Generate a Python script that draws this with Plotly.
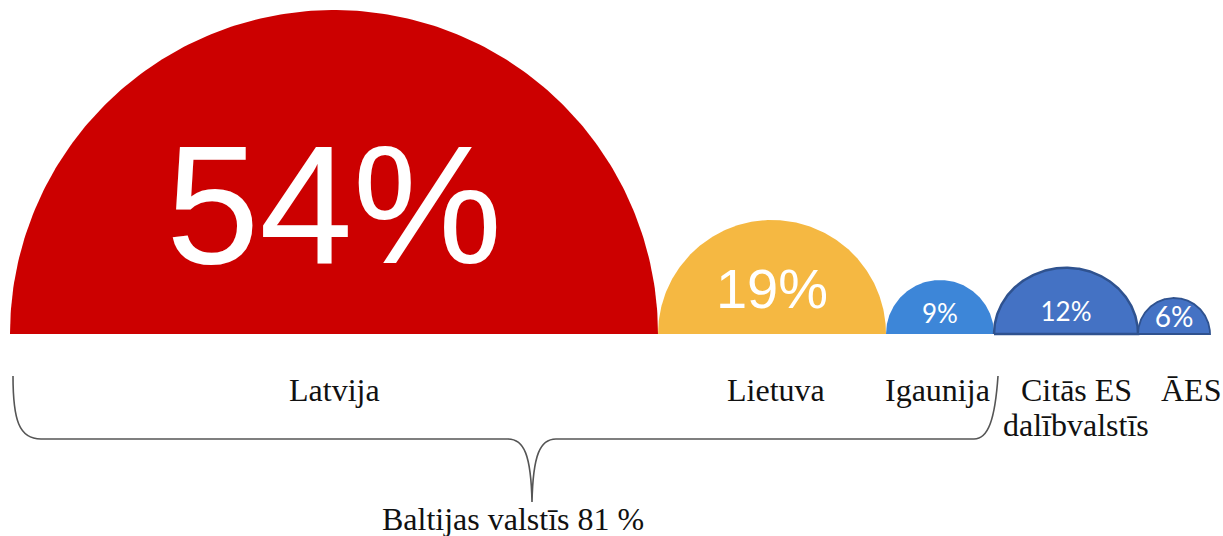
import numpy as np
import plotly.graph_objects as go

# ---------------- data ----------------
categories = ["Latvija", "Lietuva", "Igaunija", "Citās ES<br>dalībvalstīs", "ĀES"]
shares = [54, 19, 9, 12, 6]              # percent
value_labels = ["54%", "19%", "9%", "12%", "6%"]
group_label = "Baltijas valstīs 81 %"
group_members = 3                         # first three categories are Baltic

# ---------------- style ----------------
OFF = 0            # page body margin is removed by post_script
W, H = 1223 - OFF, 536 - OFF
PX = 12.0          # pixels per percent unit
X0_PX = 10         # screen pixel position of x=0
BASE_PX = 334      # screen pixel position of y=0 (baseline)
fills = ["#CC0000", "#F5B842", "#3D86D8", "#4472C4", "#4472C4"]
outlines = [None, None, None, "#2F528F", "#2F528F"]
outline_w = [0, 0, 0, 2.5, 1.8]
height_ratio = [1, 1, 1, 0.92, 1]
val_font = ["Liberation Sans", "Liberation Sans", "Lato", "Lato", "Lato"]
val_size = [168, 56, 26, 26, 28]
val_y_frac = [0.35, 0.35, 0.33, 0.30, 0.39]
label_xshift = [0, 4, -3, 10, 17]
label_font = dict(family="Liberation Serif, Times New Roman, serif", size=32, color="#111111")


def px_x(p):
    return (p - X0_PX) / PX


def px_y(p):
    return (BASE_PX - p) / PX


fig = go.Figure()

starts = np.concatenate([[0], np.cumsum(shares)[:-1]])
t = np.linspace(0, np.pi, 200)
for i, (s, v) in enumerate(zip(starts, shares)):
    r = v / 2
    cx = s + r
    h = r * height_ratio[i]
    xs = cx - r * np.cos(t)
    ys = h * np.sin(t)
    xs = np.concatenate([xs, [cx - r]])
    ys = np.concatenate([ys, [0]])
    line = dict(width=0, color=fills[i]) if outlines[i] is None else dict(width=outline_w[i], color=outlines[i])
    fig.add_trace(go.Scatter(x=xs, y=ys, mode="lines", fill="toself", fillcolor=fills[i],
                             line=line, hoverinfo="skip", showlegend=False))
    fig.add_trace(go.Scatter(x=[cx], y=[h * val_y_frac[i]], mode="text", text=[value_labels[i]],
                             textposition="middle center",
                             textfont=dict(family=val_font[i], size=val_size[i], color="white"),
                             hoverinfo="skip", showlegend=False))
    # category labels (line by line, tighter spacing)
    for j, line_txt in enumerate(categories[i].split("<br>")):
        fig.add_annotation(x=cx, y=px_y(390 + 35 * j), text=line_txt, showarrow=False,
                           xanchor="center", yanchor="middle", xshift=label_xshift[i],
                           font=label_font)

# brace under the Baltic group
g_end = float(np.sum(shares[:group_members]))
L = 13
R = X0_PX + PX * g_end + 4
M = 532
top, mid, tip = 376, 439, 502


def P(x, y):
    return f"{px_x(x):.4f},{px_y(y):.4f}"


path = (f"M {P(L, top)} C {P(L, 420)} {P(L + 6, mid)} {P(L + 28, mid)} "
        f"L {P(M - 24, mid)} C {P(M - 8, mid)} {P(M - 1, 455)} {P(M, tip)} "
        f"C {P(M + 1, 455)} {P(M + 8, mid)} {P(M + 24, mid)} "
        f"L {P(R - 24, mid)} C {P(R - 10, mid)} {P(R - 3, 420)} {P(R, top)}")
fig.add_shape(type="path", path=path, xref="x", yref="y",
              line=dict(color="#555555", width=1.6))
fig.add_annotation(x=px_x(M - 19), y=px_y(519), text=group_label, showarrow=False,
                   xanchor="center", yanchor="middle", font=label_font)

fig.update_layout(
    width=W, height=H,
    margin=dict(l=0, r=0, t=0, b=0),
    paper_bgcolor="white", plot_bgcolor="white",
    xaxis=dict(range=[px_x(OFF), px_x(OFF + W)], visible=False, fixedrange=True),
    yaxis=dict(range=[px_y(OFF + H), px_y(OFF)], visible=False, fixedrange=True),
    showlegend=False,
)

fig.write_html(
    "out.html",
    config={"displayModeBar": False},
    post_script="document.body.style.margin='0';document.body.style.overflow='hidden';"
                "document.documentElement.style.overflow='hidden';",
)
